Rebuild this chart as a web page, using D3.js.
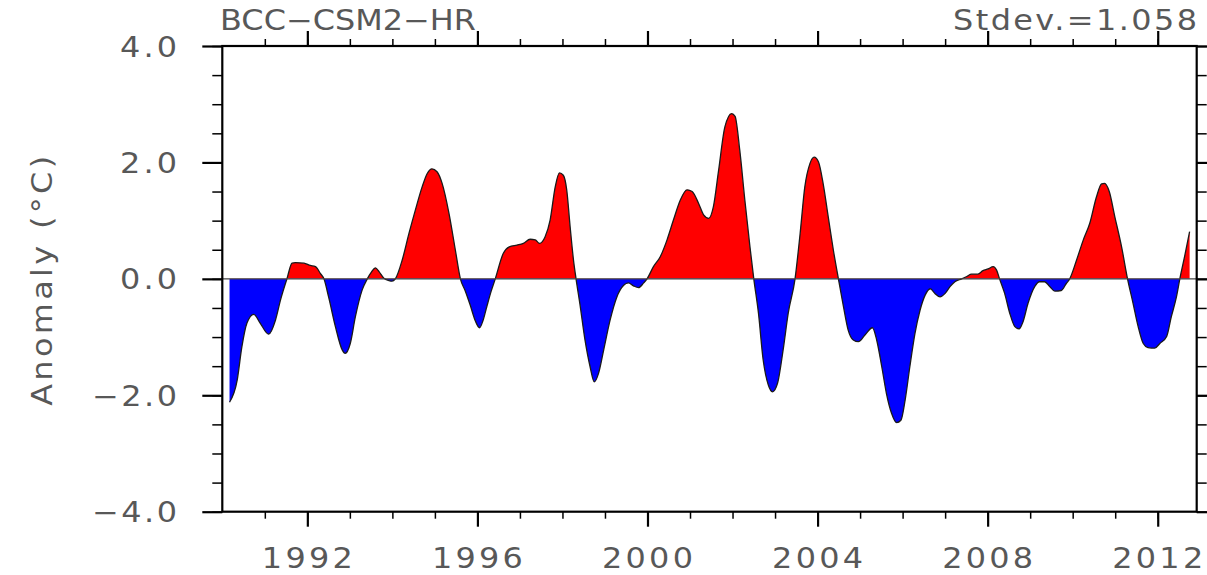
<!DOCTYPE html>
<html>
<head>
<meta charset="utf-8">
<script src="https://cdn.jsdelivr.net/npm/d3@7"></script>
<style>
  html, body { margin: 0; padding: 0; background: #fff; }
  svg { display: block; }
  text { font-family: "DejaVu Sans", "Liberation Sans", sans-serif; fill: #585858; }
</style>
</head>
<body>
<svg id="chart" width="1207" height="575"></svg>
<script>
// Smoothed temperature anomaly series (°C), decimal years
const years = [
  1990.17, 1990.35, 1990.46, 1990.58, 1990.74, 1990.89, 1991.09, 1991.25, 1991.37, 1991.52,
  1991.64, 1991.72, 1991.92, 1992.07, 1992.19, 1992.31, 1992.39, 1992.50, 1992.66, 1992.82,
  1992.89, 1993.01, 1993.13, 1993.29, 1993.41, 1993.51, 1993.60, 1993.69, 1993.80, 1993.92,
  1993.99, 1994.07, 1994.23, 1994.39, 1994.54, 1994.70, 1994.82, 1994.93, 1995.05, 1995.17,
  1995.33, 1995.48, 1995.60, 1995.71, 1995.83, 1995.95, 1996.05, 1996.13, 1996.22, 1996.32,
  1996.42, 1996.61, 1996.75, 1996.93, 1997.08, 1997.24, 1997.36, 1997.46, 1997.59, 1997.71,
  1997.83, 1997.93, 1998.02, 1998.10, 1998.18, 1998.26, 1998.32, 1998.42, 1998.53, 1998.65,
  1998.75, 1998.85, 1998.97, 1999.12, 1999.28, 1999.44, 1999.55, 1999.67, 1999.79, 1999.91,
  1999.99, 2000.14, 2000.30, 2000.46, 2000.61, 2000.77, 2000.93, 2001.05, 2001.20, 2001.32,
  2001.44, 2001.55, 2001.67, 2001.82, 2001.98, 2002.06, 2002.17, 2002.29, 2002.41, 2002.50,
  2002.61, 2002.72, 2002.84, 2002.94, 2003.06, 2003.19, 2003.31, 2003.47, 2003.59, 2003.70,
  2003.82, 2003.92, 2004.02, 2004.13, 2004.25, 2004.37, 2004.49, 2004.61, 2004.72, 2004.84,
  2004.96, 2005.12, 2005.29, 2005.39, 2005.51, 2005.62, 2005.74, 2005.86, 2005.96, 2006.06,
  2006.17, 2006.29, 2006.41, 2006.53, 2006.65, 2006.76, 2006.88, 2007.00, 2007.12, 2007.23,
  2007.39, 2007.51, 2007.62, 2007.77, 2007.89, 2008.01, 2008.13, 2008.21, 2008.28, 2008.40,
  2008.52, 2008.64, 2008.74, 2008.83, 2008.95, 2009.11, 2009.22, 2009.34, 2009.46, 2009.58,
  2009.73, 2009.85, 2009.93, 2010.09, 2010.25, 2010.40, 2010.56, 2010.68, 2010.75, 2010.86,
  2010.99, 2011.15, 2011.29, 2011.42, 2011.54, 2011.66, 2011.77, 2011.93, 2012.05, 2012.21,
  2012.32, 2012.44, 2012.52, 2012.64, 2012.75
];
const anomaly = [
  -2.12, -1.74, -1.17, -0.76, -0.61, -0.76, -0.95, -0.71, -0.36, 0.00,
   0.27,  0.28,  0.27,  0.23,  0.21,  0.09,  0.00, -0.31, -0.82, -1.22,
  -1.28, -1.11, -0.65, -0.19,  0.00,  0.12,  0.19,  0.12,  0.01, -0.03,
  -0.04,  0.00,  0.32,  0.78,  1.18,  1.58,  1.81,  1.89,  1.84,  1.64,
   1.13,  0.50,  0.00, -0.20, -0.45, -0.72, -0.84, -0.72, -0.48, -0.22,
   0.00,  0.44,  0.55,  0.58,  0.61,  0.68,  0.67,  0.61,  0.72,  1.01,
   1.58,  1.82,  1.78,  1.53,  0.90,  0.32,  0.00, -0.48, -1.05, -1.51,
  -1.77, -1.62, -1.22, -0.71, -0.31, -0.11, -0.07, -0.12, -0.15, -0.07,
   0.00,  0.21,  0.38,  0.67,  1.01,  1.35,  1.53,  1.50,  1.30,  1.10,
   1.04,  1.24,  1.85,  2.61,  2.84,  2.79,  2.21,  1.35,  0.55,  0.00,
  -0.59, -1.39, -1.82, -1.94, -1.79, -1.22, -0.59,  0.00,  0.78,  1.58,
   1.98,  2.09,  2.01,  1.64,  1.07,  0.50,  0.00, -0.48, -0.88, -1.05,
  -1.08, -0.96, -0.84, -1.05, -1.51, -1.97, -2.31, -2.47, -2.43, -2.08,
  -1.51, -0.94, -0.54, -0.28, -0.17, -0.25, -0.31, -0.25, -0.13, -0.05,
   0.00,  0.04,  0.08,  0.08,  0.14,  0.17,  0.21,  0.15,  0.00, -0.25,
  -0.59, -0.82, -0.86, -0.74, -0.42, -0.13, -0.05, -0.05, -0.13, -0.21,
  -0.20, -0.08,  0.00,  0.32,  0.67,  0.95,  1.41,  1.63,  1.64,  1.50,
   1.07,  0.55,  0.00, -0.42, -0.82, -1.11, -1.18, -1.19, -1.11, -0.99,
  -0.65, -0.31,  0.00,  0.41,  0.81
];

// Axis ticks and labels
const yearTicks = [1992, 1996, 2000, 2004, 2008, 2012];
const yearMinorTicks = d3.range(1991, 2013);
const yTicks = [-4, -2, 0, 2, 4];
const yMinorTicks = d3.range(-4, 4.01, 0.5);
const titleLeft = "BCC\u2212CSM2\u2212HR";
const titleRight = "Stdev.=1.058";
const yLabel = "Anomaly (\u00B0C)";

const plotL = 222.3, plotR = 1196.7, plotT = 46, plotB = 511.7;
const svg = d3.select("#chart");

const x = d3.scaleLinear().domain([1990, 2012 + 11 / 12]).range([plotL, plotR]);
const y = d3.scaleLinear().domain([-4, 4]).range([plotB, plotT]);

const data = years.map((t, i) => ({ t, v: anomaly[i] }));

// Clip regions above and below the zero line
const defs = svg.append("defs");
defs.append("clipPath").attr("id", "above")
  .append("rect").attr("x", plotL).attr("y", plotT)
  .attr("width", plotR - plotL).attr("height", y(0) - plotT);
defs.append("clipPath").attr("id", "below")
  .append("rect").attr("x", plotL).attr("y", y(0))
  .attr("width", plotR - plotL).attr("height", plotB - y(0));

const area = d3.area()
  .x(d => x(d.t)).y0(y(0)).y1(d => y(d.v))
  .curve(d3.curveMonotoneX);
const line = d3.line()
  .x(d => x(d.t)).y(d => y(d.v))
  .curve(d3.curveMonotoneX);

svg.append("path").datum(data).attr("d", area)
  .attr("fill", "#ff0000").attr("clip-path", "url(#above)");
svg.append("path").datum(data).attr("d", area)
  .attr("fill", "#0000ff").attr("clip-path", "url(#below)");
svg.append("path").datum(data).attr("d", line)
  .attr("fill", "none").attr("stroke", "#1a1a1a").attr("stroke-width", 1.3);

// Zero reference line
svg.append("line")
  .attr("x1", plotL).attr("x2", plotR)
  .attr("y1", y(0)).attr("y2", y(0))
  .attr("stroke", "#444").attr("stroke-width", 1.2);

// Axes: minor and major ticks on all four sides
function styleAxis(g, w) {
  g.select(".domain").remove();
  g.selectAll(".tick line").attr("stroke", "#000").attr("stroke-width", w);
}
svg.append("g").attr("transform", `translate(0,${plotB})`)
  .call(d3.axisBottom(x).tickValues(yearMinorTicks).tickSize(7).tickFormat(""))
  .call(g => styleAxis(g, 1.5));
svg.append("g").attr("transform", `translate(0,${plotT})`)
  .call(d3.axisTop(x).tickValues(yearMinorTicks).tickSize(7).tickFormat(""))
  .call(g => styleAxis(g, 1.5));
svg.append("g").attr("transform", `translate(0,${plotB})`)
  .call(d3.axisBottom(x).tickValues(yearTicks).tickSize(15).tickFormat(""))
  .call(g => styleAxis(g, 2.2));
svg.append("g").attr("transform", `translate(0,${plotT})`)
  .call(d3.axisTop(x).tickValues(yearTicks).tickSize(15).tickFormat(""))
  .call(g => styleAxis(g, 2.2));

svg.append("g").attr("transform", `translate(${plotL},0)`)
  .call(d3.axisLeft(y).tickValues(yMinorTicks).tickSize(10).tickFormat(""))
  .call(g => styleAxis(g, 1.5));
svg.append("g").attr("transform", `translate(${plotR},0)`)
  .call(d3.axisRight(y).tickValues(yMinorTicks).tickSize(10).tickFormat(""))
  .call(g => styleAxis(g, 1.5));
svg.append("g").attr("transform", `translate(${plotL},0)`)
  .call(d3.axisLeft(y).tickValues(yTicks).tickSize(20).tickFormat(""))
  .call(g => styleAxis(g, 2.2));
svg.append("g").attr("transform", `translate(${plotR},0)`)
  .call(d3.axisRight(y).tickValues(yTicks).tickSize(20).tickFormat(""))
  .call(g => styleAxis(g, 2.2));

// Frame
svg.append("rect")
  .attr("x", plotL).attr("y", plotT)
  .attr("width", plotR - plotL).attr("height", plotB - plotT)
  .attr("fill", "none").attr("stroke", "#000").attr("stroke-width", 2.2);

// Wide, evenly spaced lettering: glyphs widened by SX, run length fixed
const FS = 28.5, SX = 1.12;
function wideText(sel, px, py, len, rot = 0) {
  sel.style("font-size", FS + "px")
    .attr("transform", `translate(${px},${py}) rotate(${rot}) scale(${SX},1)`)
    .attr("textLength", len / SX)
    .attr("lengthAdjust", "spacing");
}

svg.append("g").selectAll("text").data(yearTicks).join("text")
  .attr("text-anchor", "middle")
  .text(d => d)
  .each(function(d) { d3.select(this).call(wideText, x(d), 568, 91); });

const yFmt = d3.format(".1f");
svg.append("g").selectAll("text").data(yTicks).join("text")
  .attr("text-anchor", "end")
  .text(d => yFmt(d))
  .each(function(d) { d3.select(this).call(wideText, 177, y(d) + 10.5, d < 0 ? 85 : 57); });

// Titles
svg.append("text").text(titleLeft).call(wideText, 220, 30, 256);
svg.append("text").attr("text-anchor", "end")
  .text(titleRight).call(wideText, 1197, 30, 244);

// Y axis title
svg.append("text").attr("text-anchor", "middle")
  .text(yLabel).call(wideText, 52, y(0) + 2, 250, -90);
</script>
</body>
</html>
